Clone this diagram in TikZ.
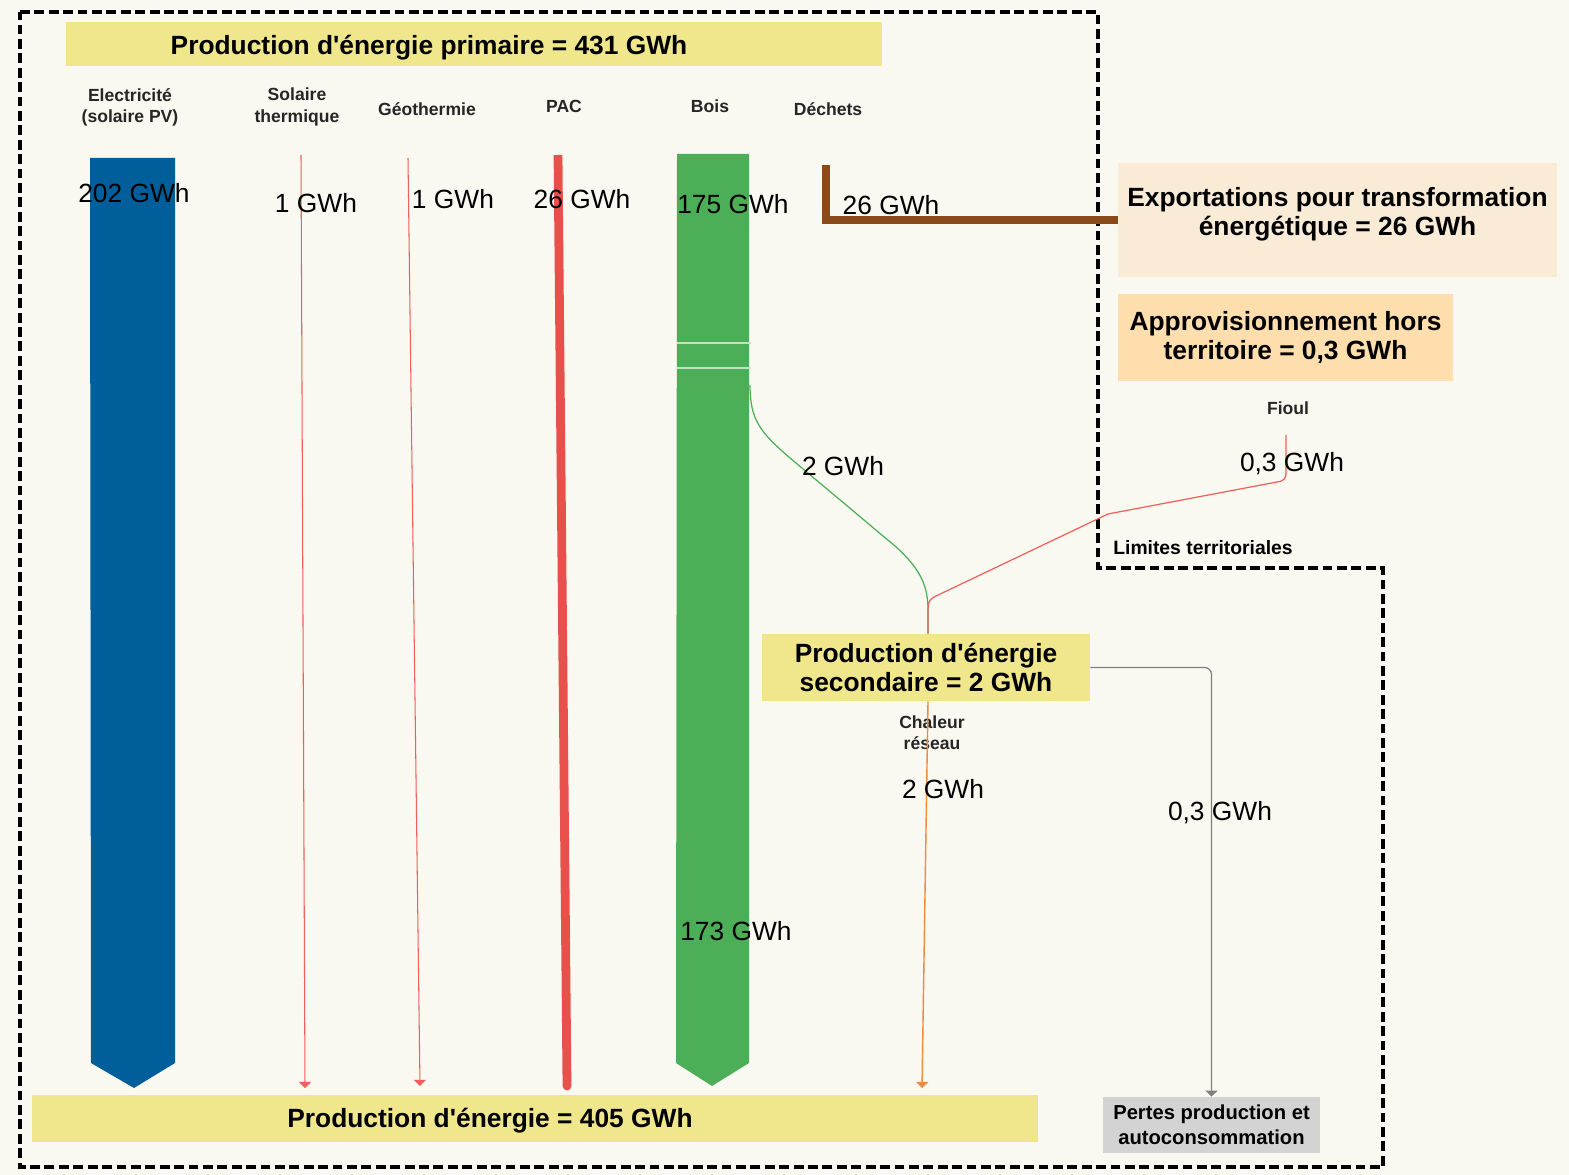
\documentclass[tikz,border=0pt]{standalone}
\usepackage{fontspec}
\setmainfont{Liberation Sans}
\usetikzlibrary{arrows.meta}
\begin{document}
\begin{tikzpicture}[x=0.02cm, y=-0.02cm, frontier/.style={line width=1.9pt, black, dash pattern=on 5.6pt off 2.6pt}, ybox/.style={fill=prodYellow, inner sep=0pt}, big/.style={font=\fontsize{15}{17}\selectfont\bfseries, align=center, text=black}, val/.style={font=\fontsize{15}{17}\selectfont, text=black}, head/.style={font=\fontsize{10}{12}\selectfont\bfseries, align=center, text=black!85}, tip/.style={-{Triangle[width=7pt, length=3.5pt]}}, fineflow/.style={tip, line width=0.6pt, lineRed}, joinflow/.style={line width=0.7pt}]
\definecolor{paper}{RGB}{249,248,241}
\definecolor{prodYellow}{RGB}{240,230,140}
\definecolor{exportPeach}{RGB}{250,235,215}
\definecolor{supplyPeach}{RGB}{255,222,173}
\definecolor{lossGrey}{RGB}{211,211,211}
\definecolor{pvBlue}{RGB}{0,95,155}
\definecolor{woodGreen}{RGB}{77,174,88}
\definecolor{lineRed}{RGB}{240,96,90}
\definecolor{pacRed}{RGB}{232,80,75}
\definecolor{heatOrange}{RGB}{240,138,60}
\definecolor{wasteBrown}{RGB}{139,74,28}
\fill[paper] (0,0) rectangle (1569,1175);
\useasboundingbox (0,0) rectangle (1569,1175);
\draw[frontier] (20,12) -- (1098,12) -- (1098,568) -- (1383,568) -- (1383,1167) -- (20,1167) -- cycle;
\node[ybox, minimum width=16.32cm, minimum height=0.88cm] (primaire) at (474,44) {};
\node[big] (primaireTxt) at (429,48) {Production d\textquotesingle énergie primaire = 431 GWh};
\node[ybox, minimum width=20.12cm, minimum height=0.94cm] (production) at (535,1118.5) {};
\node[big] (productionTxt) at (490,1121) {Production d\textquotesingle énergie = 405 GWh};
\node[ybox, big, minimum width=6.56cm, minimum height=1.34cm] (secondaire) at (926,667.5) {Production d\textquotesingle énergie\\secondaire = 2 GWh};
\node[big, fill=exportPeach, minimum width=8.78cm, minimum height=2.28cm, text depth=0.34cm] (export) at (1337.5,220) {Exportations pour transformation\\énergétique = 26 GWh};
\node[big, fill=supplyPeach, minimum width=6.7cm, minimum height=1.74cm] (appro) at (1285.5,337.5) {Approvisionnement hors\\territoire = 0,3 GWh};
\node[fill=lossGrey, font=\fontsize{11.5}{14}\selectfont\bfseries, align=center, minimum width=4.34cm, minimum height=1.12cm] (pertes) at (1211.5,1125) {Pertes production et\\autoconsommation};
\node[head] (hPV) at (130,107) {Electricité\\(solaire PV)};
\node[head] (hTh) at (297,107) {Solaire\\thermique};
\node[head] (hGeo) at (427,109) {Géothermie};
\node[head] (hPac) at (564,106) {PAC};
\node[head] (hBois) at (710,106) {Bois};
\node[head] (hDech) at (828,109) {Déchets};
\node[head] (hFioul) at (1288,408) {Fioul};
\node[head] (hChal) at (932,733) {Chaleur\\réseau};
\node[font=\fontsize{11}{13}\selectfont\bfseries] (limites) at (1203,548) {Limites territoriales};
\coordinate (thTop) at (301,155);
\coordinate (thEnd) at (305,1088);
\coordinate (geoTop) at (408,158);
\coordinate (geoEnd) at (420,1086);
\coordinate (pacTop) at (558,155);
\coordinate (pacEnd) at (567,1086);
\coordinate (dechTop) at (826,165);
\coordinate (boisOut) at (750,385);
\coordinate (fioulTop) at (1286,435);
\coordinate (merge) at (928,610);
\coordinate (heatEnd) at (922,1088);
\fill[pvBlue] (90,158) -- (175,158) -- (175,1063) -- (134,1088) -- (91,1063) -- cycle;
\fill[woodGreen] (677,154) -- (749,154) -- (749,1063) -- (712,1086) -- (676,1063) -- cycle;
\draw[line width=0.6pt, white!65!woodGreen] (677,343) -- (751,343) (677,368) -- (751,368);
\draw[fineflow] (thTop) -- (thEnd);
\draw[fineflow] (geoTop) -- (geoEnd);
\draw[line width=5pt, pacRed] (pacTop) -- (pacEnd);
\fill[pacRed] (pacEnd) circle (2.5pt);
\draw[line width=4pt, wasteBrown] (dechTop) |- (export.west);
\draw[joinflow, woodGreen] (boisOut) .. controls (750,420) and (760,432) .. (790,458) -- (895,546) .. controls (922,570) and (928,588) .. (merge) -- (merge |- secondaire.north);
\draw[joinflow, lineRed] (fioulTop) -- (1286,472) .. controls (1286,479) and (1284,481) .. (1277,482) -- (1108,514) -- (934,597) .. controls (929,600) and (928,603) .. (merge) -- (merge |- secondaire.north);
\draw[tip, line width=0.8pt, heatOrange] (merge |- secondaire.south) -- (heatEnd);
\draw[tip, line width=0.7pt, gray, rounded corners=4pt] (secondaire.east) -| (pertes.north);
\node[val] (vPV) at (134,193) {202 GWh};
\node[val] (vTh) at (316,203) {1 GWh};
\node[val] (vGeo) at (453,199) {1 GWh};
\node[val] (vPac) at (582,199) {26 GWh};
\node[val] (vBois) at (733,204) {175 GWh};
\node[val] (vDech) at (891,205) {26 GWh};
\node[val] (vSec) at (843,466) {2 GWh};
\node[val] (vFioul) at (1292,464) {0,3 GWh};
\node[val] (vChal) at (943,789) {2 GWh};
\node[val] (vPertes) at (1220,813) {0,3 GWh};
\node[val] (vBoisOut) at (736,931) {173 GWh};
\end{tikzpicture}
\end{document}
